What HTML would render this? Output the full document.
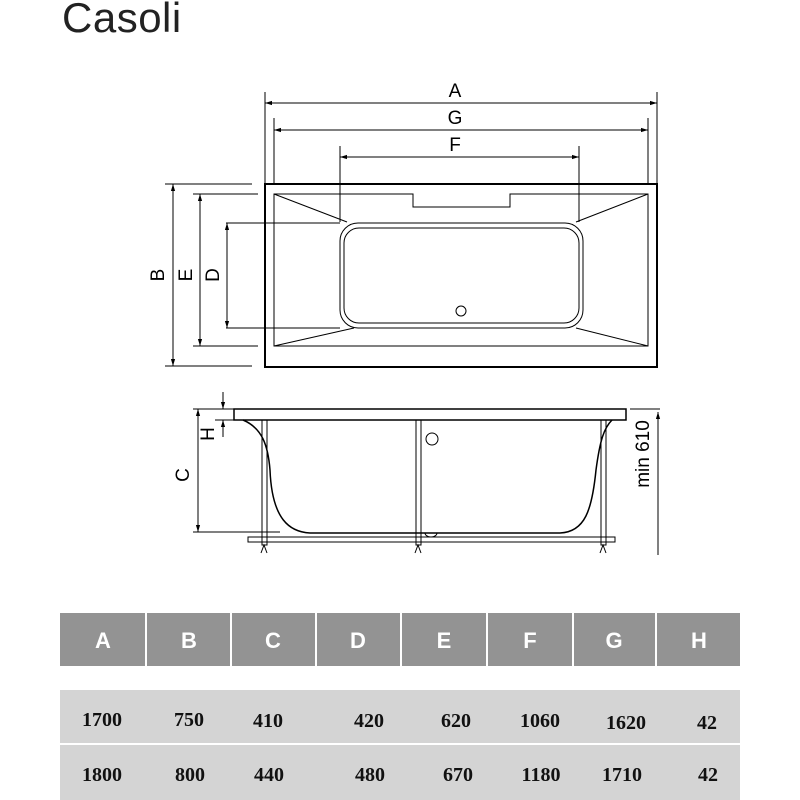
<!DOCTYPE html>
<html><head><meta charset="utf-8"><style>
body{margin:0;background:#fff;width:800px;height:800px;overflow:hidden;position:relative;font-family:"Liberation Sans",sans-serif}
.t{position:absolute;left:62px;top:-6px;font-size:42px;color:#222;letter-spacing:0.5px}
</style></head><body>
<div class="t">Casoli</div>
<svg width="800" height="800" style="position:absolute;left:0;top:0" font-family="Liberation Sans, sans-serif">
<defs><marker id="a" viewBox="0 0 10 10" refX="10" refY="5" markerWidth="7" markerHeight="7" orient="auto-start-reverse"><path d="M0,2 L10,5 L0,8z" fill="#000"/></marker></defs>
<g stroke="#000" fill="none" stroke-width="1">
<rect x="265" y="184" width="392" height="183" stroke-width="2"/>
<path d="M274,194 H413 V207 H510 V194 H648 V346 H274 Z"/>
<rect x="340" y="223" width="243" height="105" rx="18"/>
<rect x="344" y="228" width="235" height="95" rx="15"/>
<circle cx="461" cy="311" r="5"/>
<path d="M274,194 L347,222 M648,194 L576,222 M274,346 L354,328 M648,346 L576,328"/>
<path d="M265,92 V184 M657,92 V184 M274,118 V184 M648,118 V184 M340,146 V222 M579,146 V222"/>
<line x1="265" y1="103" x2="657" y2="103" marker-start="url(#a)" marker-end="url(#a)"/>
<line x1="274" y1="130" x2="648" y2="130" marker-start="url(#a)" marker-end="url(#a)"/>
<line x1="340" y1="157" x2="579" y2="157" marker-start="url(#a)" marker-end="url(#a)"/>
<path d="M165,184 H252 M165,366 H252 M193,194 H258 M193,346 H258 M226,223 H340 M226,328 H340"/>
<line x1="173" y1="184" x2="173" y2="366" marker-start="url(#a)" marker-end="url(#a)"/>
<line x1="200" y1="194" x2="200" y2="346" marker-start="url(#a)" marker-end="url(#a)"/>
<line x1="227" y1="223" x2="227" y2="328" marker-start="url(#a)" marker-end="url(#a)"/>
<rect x="234" y="409" width="392" height="11" stroke-width="1.5"/>
<path d="M243,420 C262,428 268,445 270,470 C272,520 290,532 310,533 H560 C585,532 592,510 596,470 C600,440 604,428 612,420" stroke-width="1.5"/>
<rect x="248" y="537" width="367" height="5"/>
<rect x="262" y="420" width="5" height="125"/>
<rect x="416" y="420" width="5" height="125"/>
<rect x="601" y="420" width="5" height="125"/>
<path d="M261,553 L264,545 L267,553 M415,553 L418,545 L421,553 M600,553 L603,545 L606,553"/>
<circle cx="432" cy="439" r="6"/>
<path d="M425,533 a6,4 0 0 0 12,0"/>
<path d="M193,409 H234 M193,532 H280 M215,409 H234 M215,420 H234 M630,409 H660"/>
<line x1="198" y1="409" x2="198" y2="532" marker-start="url(#a)" marker-end="url(#a)"/>
<line x1="223" y1="392" x2="223" y2="409" marker-end="url(#a)"/>
<line x1="223" y1="437" x2="223" y2="420" marker-end="url(#a)"/>
<line x1="658" y1="412" x2="658" y2="555" marker-start="url(#a)"/>
</g>
<g font-size="19" fill="#000">
<text x="455" y="97" text-anchor="middle">A</text>
<text x="455" y="124" text-anchor="middle">G</text>
<text x="455" y="151" text-anchor="middle">F</text>
<text transform="translate(164,275) rotate(-90)" text-anchor="middle">B</text>
<text transform="translate(192,275) rotate(-90)" text-anchor="middle">E</text>
<text transform="translate(219,275) rotate(-90)" text-anchor="middle">D</text>
<text transform="translate(189,475) rotate(-90)" text-anchor="middle">C</text>
<text transform="translate(214,434) rotate(-90)" text-anchor="middle">H</text>
<text transform="translate(649,454) rotate(-90)" text-anchor="middle">min 610</text>
</g>
<g fill="#939393">
<rect x="60" y="613" width="85" height="53"/><rect x="147" y="613" width="83" height="53"/>
<rect x="232" y="613" width="83" height="53"/><rect x="317" y="613" width="83" height="53"/>
<rect x="402" y="613" width="84" height="53"/><rect x="488" y="613" width="84" height="53"/>
<rect x="574" y="613" width="81" height="53"/><rect x="657" y="613" width="83" height="53"/>
</g>
<rect x="60" y="690" width="680" height="53" fill="#d4d4d4"/>
<rect x="60" y="745" width="680" height="55" fill="#d4d4d4"/>
<g font-size="22" font-weight="bold" fill="#fff" text-anchor="middle">
<text x="103" y="648">A</text><text x="189" y="648">B</text><text x="273" y="648">C</text><text x="358" y="648">D</text><text x="444" y="648">E</text><text x="530" y="648">F</text><text x="614" y="648">G</text><text x="699" y="648">H</text>
</g>
<g font-size="20" font-weight="bold" fill="#111" text-anchor="middle" font-family="Liberation Serif, serif">
<text x="102" y="726">1700</text><text x="189" y="726">750</text><text x="268" y="727">410</text><text x="369" y="727">420</text><text x="456" y="727">620</text><text x="540" y="727">1060</text><text x="626" y="729">1620</text><text x="707" y="729">42</text>
<text x="102" y="781">1800</text><text x="190" y="781">800</text><text x="269" y="781">440</text><text x="370" y="781">480</text><text x="458" y="781">670</text><text x="541" y="781">1180</text><text x="622" y="781">1710</text><text x="708" y="781">42</text>
</g>
</svg>
</body></html>
